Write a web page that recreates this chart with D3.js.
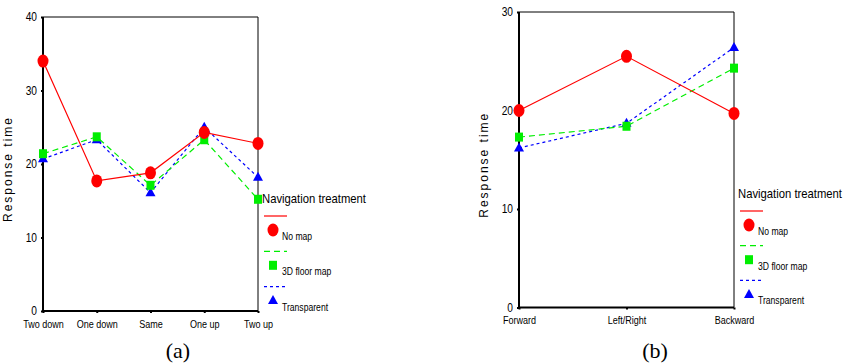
<!DOCTYPE html>
<html>
<head>
<meta charset="utf-8">
<script src="https://cdn.jsdelivr.net/npm/d3@7.9.0/dist/d3.min.js"></script>
<style>
  body { margin: 0; background: #fff; }
  svg { display: block; }
  .narrow { font-family: "Liberation Sans", Arial, sans-serif; }
  .caption { font-family: "Liberation Serif", "Times New Roman", serif; font-size: 22px; }
</style>
</head>
<body>
<svg id="chart" width="849" height="363"></svg>
<script>
// panel (a)
const categoriesA = ['Two down', 'One down', 'Same', 'One up', 'Two up'];
const noMapA = [34, 17.7, 18.8, 24.3, 22.8];
const floorMapA = [21.4, 23.7, 17.1, 23.3, 15.2];
const transparentA = [20.7, 23.3, 16.1, 25.0, 18.2];
const yTicksA = [0, 10, 20, 30, 40];

// panel (b)
const categoriesB = ['Forward', 'Left/Right', 'Backward'];
const noMapB = [20.0, 25.5, 19.7];
const floorMapB = [17.3, 18.4, 24.3];
const transparentB = [16.2, 18.7, 26.4];
const yTicksB = [0, 10, 20, 30];

const seriesNames = ['No map', '3D floor map', 'Transparent'];
const seriesColors = ['#ff0000', '#00ee00', '#0000ff'];
const seriesDash = [null, '6,4', '3,3'];

const svg = d3.select('#chart');

// squeeze text horizontally, the source uses a narrow face
function condense(sel, factor) {
  sel.each(function () {
    const w = this.getComputedTextLength();
    d3.select(this).attr('textLength', w * factor).attr('lengthAdjust', 'spacingAndGlyphs');
  });
}

function drawMarker(g, i, x, y) {
  if (i === 0) {
    g.append('ellipse').attr('cx', x).attr('cy', y).attr('rx', 5.5).attr('ry', 6.5)
      .attr('fill', seriesColors[0]);
  } else if (i === 1) {
    g.append('rect').attr('x', x - 4).attr('y', y - 4.5).attr('width', 8).attr('height', 9)
      .attr('fill', seriesColors[1]);
  } else {
    g.append('path').attr('d', `M${x},${y - 5.5}L${x + 5},${y + 3.5}L${x - 5},${y + 3.5}Z`)
      .attr('fill', seriesColors[2]);
  }
}

function drawPanel(opts) {
  const { categories, series, yTicks, yMax, x0, x1, yTop, yBottom, xLabelY, labelX, legend, caption } = opts;

  const x = d3.scalePoint().domain(categories).range([x0, x1]);
  const y = d3.scaleLinear().domain([0, yMax]).range([yBottom, yTop]);

  const g = svg.append('g');

  // frame: thin top/right, thick left/bottom
  g.append('line').attr('x1', x0).attr('x2', x1).attr('y1', yTop).attr('y2', yTop)
    .attr('stroke', '#000').attr('stroke-width', 1);
  g.append('line').attr('x1', x1).attr('x2', x1).attr('y1', yTop).attr('y2', yBottom)
    .attr('stroke', '#000').attr('stroke-width', 1);

  const yAxis = g.append('g').attr('transform', `translate(${x0},0)`)
    .call(d3.axisLeft(y).tickValues(yTicks).tickSize(2).tickPadding(4).tickFormat(d3.format('d')));
  yAxis.select('.domain').attr('stroke-width', 2).attr('d', `M0,${yTop}V${yBottom}`);
  yAxis.selectAll('.tick line').attr('stroke-width', 2);
  yAxis.selectAll('.tick text').attr('class', 'narrow').attr('font-size', 12).attr('fill', '#000')
    .call(condense, 0.85);

  const xAxis = g.append('g').attr('transform', `translate(0,${yBottom})`)
    .call(d3.axisBottom(x).tickSize(2).tickPadding(0));
  xAxis.select('.domain').attr('stroke-width', 2).attr('d', `M${x0},0H${x1}`);
  xAxis.selectAll('.tick line').attr('stroke-width', 2);
  xAxis.selectAll('.tick text').attr('class', 'narrow').attr('font-size', 10.5).attr('fill', '#000')
    .attr('dy', null).attr('y', xLabelY - yBottom)
    .call(condense, 0.86);

  // y label
  g.append('text')
    .attr('transform', `translate(${labelX},${(yTop + yBottom) / 2 + 5}) rotate(-90)`)
    .attr('text-anchor', 'middle')
    .attr('font-family', 'Liberation Sans, Arial, sans-serif')
    .attr('font-size', 12).attr('letter-spacing', 2)
    .text('Response time');

  const line = d3.line().x((d, i) => x(categories[i])).y((d) => y(d));

  // draw blue, green, then red on top
  [2, 1, 0].forEach((si) => {
    g.append('path').datum(series[si]).attr('d', line)
      .attr('fill', 'none').attr('stroke', seriesColors[si]).attr('stroke-width', 1.2)
      .attr('stroke-dasharray', seriesDash[si]);
  });
  [2, 1, 0].forEach((si) => {
    series[si].forEach((v, i) => drawMarker(g, si, x(categories[i]), y(v)));
  });

  // legend
  const lg = g.append('g');
  lg.append('text').attr('class', 'narrow').attr('x', legend.x).attr('y', legend.y)
    .attr('font-size', 13).text('Navigation treatment')
    .attr('textLength', 104).attr('lengthAdjust', 'spacingAndGlyphs');
  seriesNames.forEach((name, i) => {
    const ly = legend.y + 13 + i * legend.step;
    lg.append('line').attr('x1', legend.x + 2).attr('x2', legend.x + 25)
      .attr('y1', ly).attr('y2', ly)
      .attr('stroke', seriesColors[i]).attr('stroke-width', 1.2)
      .attr('stroke-dasharray', seriesDash[i]);
    drawMarker(lg, i, legend.x + 11, ly + 14);
    lg.append('text').attr('class', 'narrow').attr('x', legend.x + 20).attr('y', ly + 24)
      .attr('font-size', 10).text(name)
      .call(condense, 0.86);
  });

  svg.append('text').attr('class', 'caption').attr('x', caption[0]).attr('y', caption[1])
    .attr('text-anchor', 'middle').text(caption[2]);
}

drawPanel({
  categories: categoriesA,
  series: [noMapA, floorMapA, transparentA],
  yTicks: yTicksA, yMax: 40,
  x0: 43, x1: 258, yTop: 17, yBottom: 311, xLabelY: 328, labelX: 12,
  legend: { x: 262, y: 203, step: 35.3 },
  caption: [178, 358, '(a)']
});

drawPanel({
  categories: categoriesB,
  series: [noMapB, floorMapB, transparentB],
  yTicks: yTicksB, yMax: 30,
  x0: 519, x1: 734, yTop: 12, yBottom: 307.5, xLabelY: 324, labelX: 488,
  legend: { x: 738, y: 198, step: 34.7 },
  caption: [655, 358, '(b)']
});
</script>
</body>
</html>
